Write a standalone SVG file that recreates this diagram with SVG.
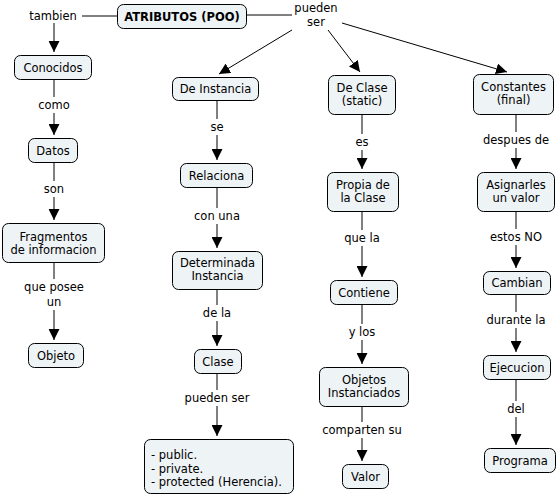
<svg xmlns="http://www.w3.org/2000/svg" width="558" height="496" viewBox="0 0 558 496">
<style>
.n rect{fill:#eef3f6;stroke:#000;stroke-width:1}
text{font-family:"DejaVu Sans","Liberation Sans",sans-serif;font-size:11.5px;fill:#000;text-anchor:middle}
.b{font-weight:bold}
.l{text-anchor:start}
.c line{stroke:#000;stroke-width:1}
.a{marker-end:url(#ah)}
</style>
<defs>
<marker id="ah" viewBox="0 0 11 11" refX="11" refY="5.5" markerWidth="11" markerHeight="11" markerUnits="userSpaceOnUse" orient="auto"><path d="M0,0 L11,5.5 L0,11 z" fill="#000"/></marker>
</defs>
<rect width="558" height="496" fill="#fff"/>
<g class="c">
<line x1="117" y1="16" x2="82" y2="16"/>
<line class="a" x1="54" y1="23" x2="54" y2="52"/>
<line x1="54" y1="80" x2="54" y2="97"/>
<line class="a" x1="54" y1="113" x2="54" y2="135"/>
<line x1="54" y1="163" x2="54" y2="181"/>
<line class="a" x1="54" y1="197" x2="54" y2="220"/>
<line x1="54" y1="263" x2="54" y2="279"/>
<line class="a" x1="54" y1="310" x2="54" y2="340"/>
<line x1="246" y1="15" x2="292" y2="15"/>
<line class="a" x1="292" y1="30" x2="219" y2="74"/>
<line class="a" x1="328" y1="30" x2="360" y2="72"/>
<line class="a" x1="342" y1="23" x2="507" y2="72"/>
<line x1="217" y1="100" x2="217" y2="119"/>
<line class="a" x1="217" y1="135" x2="217" y2="160"/>
<line x1="217" y1="188" x2="217" y2="208"/>
<line class="a" x1="217" y1="224" x2="217" y2="248"/>
<line x1="217" y1="290" x2="217" y2="305"/>
<line class="a" x1="217" y1="321" x2="217" y2="346"/>
<line x1="217" y1="373" x2="217" y2="390"/>
<line class="a" x1="217" y1="406" x2="217" y2="436"/>
<line x1="362" y1="114" x2="362" y2="134"/>
<line class="a" x1="362" y1="150" x2="362" y2="169"/>
<line x1="362" y1="211" x2="362" y2="230"/>
<line class="a" x1="362" y1="246" x2="362" y2="277"/>
<line x1="362" y1="304" x2="362" y2="324"/>
<line class="a" x1="362" y1="340" x2="362" y2="364"/>
<line x1="362" y1="406" x2="362" y2="422"/>
<line class="a" x1="362" y1="438" x2="362" y2="461"/>
<line x1="516" y1="115" x2="516" y2="132"/>
<line class="a" x1="516" y1="148" x2="516" y2="169"/>
<line x1="516" y1="211" x2="516" y2="229"/>
<line class="a" x1="516" y1="245" x2="516" y2="268"/>
<line x1="516" y1="294" x2="516" y2="312"/>
<line class="a" x1="516" y1="328" x2="516" y2="352"/>
<line x1="516" y1="379" x2="516" y2="401"/>
<line class="a" x1="516" y1="417" x2="516" y2="445"/>
</g>
<g id="labels">
<text x="53" y="20">tambien</text>
<text x="316" y="12">pueden</text>
<text x="316" y="26">ser</text>
<text x="54" y="109">como</text>
<text x="54" y="193">son</text>
<text x="54" y="291">que posee</text>
<text x="54" y="306">un</text>
<text x="217" y="131">se</text>
<text x="217" y="220">con una</text>
<text x="217" y="317">de la</text>
<text x="217" y="402">pueden ser</text>
<text x="362" y="146">es</text>
<text x="362" y="242">que la</text>
<text x="362" y="336">y los</text>
<text x="362" y="434">comparten su</text>
<text x="516" y="144">despues de</text>
<text x="516" y="241">estos NO</text>
<text x="516" y="324">durante la</text>
<text x="516" y="413">del</text>
</g>
<g id="atributos" class="n"><rect x="117.5" y="4.5" width="129" height="24" rx="6"/><text class="b" x="182" y="20.5">ATRIBUTOS (POO)</text></g>
<g id="conocidos" class="n"><rect x="14.5" y="55.5" width="77" height="24" rx="6"/><text x="53" y="71.5">Conocidos</text></g>
<g id="datos" class="n"><rect x="28.5" y="138.5" width="49" height="24" rx="6"/><text x="53" y="154.5">Datos</text></g>
<g id="fragmentos" class="n"><rect x="2.5" y="223.5" width="102" height="39" rx="6"/><text x="53.5" y="241">Fragmentos</text><text x="53.5" y="254">de informacion</text></g>
<g id="objeto" class="n"><rect x="28.5" y="343.5" width="55" height="24" rx="6"/><text x="56" y="359.5">Objeto</text></g>
<g id="deinstancia" class="n"><rect x="172.5" y="77.5" width="86" height="23" rx="6"/><text x="215.5" y="93">De Instancia</text></g>
<g id="relaciona" class="n"><rect x="180.5" y="163.5" width="72" height="24" rx="6"/><text x="216.5" y="179.5">Relaciona</text></g>
<g id="determinada" class="n"><rect x="172.5" y="251.5" width="90" height="38" rx="6"/><text x="217.5" y="267">Determinada</text><text x="217.5" y="280">Instancia</text></g>
<g id="clase" class="n"><rect x="194.5" y="349.5" width="47" height="24" rx="6"/><text x="218" y="365.5">Clase</text></g>
<g id="lista" class="n"><rect x="144.5" y="439.5" width="149" height="54" rx="6"/><text class="l" x="151" y="459">- public.</text><text class="l" x="151" y="472.5">- private.</text><text class="l" x="151" y="486">- protected (Herencia).</text></g>
<g id="declase" class="n"><rect x="328.5" y="75.5" width="67" height="39" rx="6"/><text x="362" y="92">De Clase</text><text x="362" y="105">(static)</text></g>
<g id="propia" class="n"><rect x="327.5" y="172.5" width="71" height="39" rx="6"/><text x="363" y="189">Propia de</text><text x="363" y="202">la Clase</text></g>
<g id="contiene" class="n"><rect x="330.5" y="280.5" width="67" height="24" rx="6"/><text x="364" y="296.5">Contiene</text></g>
<g id="objetos" class="n"><rect x="319.5" y="367.5" width="89" height="39" rx="6"/><text x="364" y="384">Objetos</text><text x="364" y="397">Instanciados</text></g>
<g id="valor" class="n"><rect x="342.5" y="464.5" width="46" height="24" rx="6"/><text x="365.5" y="480.5">Valor</text></g>
<g id="constantes" class="n"><rect x="473.5" y="74.5" width="80" height="40" rx="6"/><text x="513.5" y="91">Constantes</text><text x="513.5" y="104">(final)</text></g>
<g id="asignarles" class="n"><rect x="477.5" y="172.5" width="77" height="39" rx="6"/><text x="516" y="189">Asignarles</text><text x="516" y="202">un valor</text></g>
<g id="cambian" class="n"><rect x="483.5" y="271.5" width="67" height="23" rx="6"/><text x="517" y="287">Cambian</text></g>
<g id="ejecucion" class="n"><rect x="483.5" y="355.5" width="67" height="24" rx="6"/><text x="517" y="371.5">Ejecucion</text></g>
<g id="programa" class="n"><rect x="484.5" y="448.5" width="71" height="24" rx="6"/><text x="520" y="464.5">Programa</text></g>
</svg>
